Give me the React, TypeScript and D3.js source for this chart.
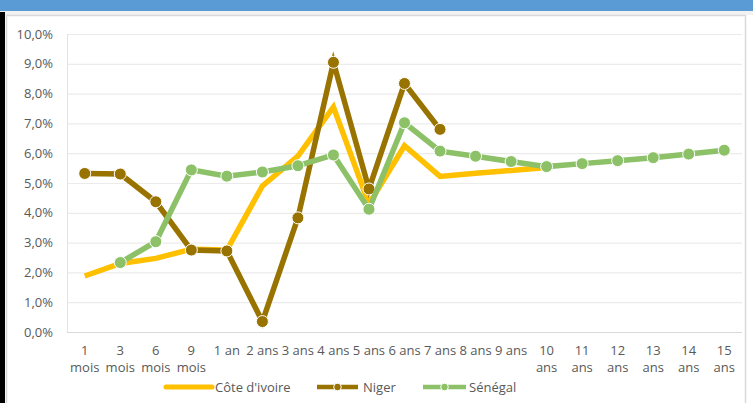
import React from "react";
import * as d3 from "d3";

const categories = [
  "1 mois", "3 mois", "6 mois", "9 mois", "1 an", "2 ans", "3 ans", "4 ans", "5 ans",
  "6 ans", "7 ans", "8 ans", "9 ans", "10 ans", "11 ans", "12 ans", "13 ans", "14 ans", "15 ans",
];

const coteIvoire: (number | null)[] = [
  1.88, 2.3, 2.47, 2.78, 2.75, 4.9, 5.9, 7.55, 4.3, 6.25, 5.22, 5.33, 5.42, 5.52,
  null, null, null, null, null,
];
const niger: (number | null)[] = [
  5.32, 5.3, 4.37, 2.75, 2.72, 0.35, 3.83, 9.05, 4.8, 8.34, 6.8,
  null, null, null, null, null, null, null, null,
];
const senegal: (number | null)[] = [
  null, 2.33, 3.03, 5.44, 5.23, 5.37, 5.58, 5.94, 4.12, 7.02, 6.07, 5.9, 5.72, 5.55,
  5.65, 5.75, 5.85, 5.97, 6.1,
];

const yTicks = [0, 1, 2, 3, 4, 5, 6, 7, 8, 9, 10];

const seriesList = [
  { name: "Côte d'ivoire", values: coteIvoire, color: "#FFC000", marker: false },
  { name: "Niger", values: niger, color: "#997300", marker: true },
  { name: "Sénégal", values: senegal, color: "#8CC168", marker: true },
];

const W = 753;
const H = 403;
const plot = { left: 67, right: 742, top: 34, bottom: 332 };
const FONT = "'Open Sans', sans-serif";

export default function App() {
  const x = d3
    .scaleBand<string>()
    .domain(categories)
    .range([plot.left, plot.right])
    .paddingInner(0)
    .paddingOuter(0);
  const y = d3.scaleLinear().domain([0, 10]).range([plot.bottom, plot.top]);
  const cx = (c: string) => (x(c) ?? 0) + x.bandwidth() / 2;

  const line = d3
    .line<{ c: string; v: number | null }>()
    .defined((d) => d.v !== null)
    .x((d) => cx(d.c))
    .y((d) => y(d.v as number));

  const fmt = (v: number) => v.toFixed(1).replace(".", ",") + "%";

  const legendItems = [
    { s: seriesList[0], x0: 166, x1: 212, tx: 215 },
    { s: seriesList[1], x0: 317, x1: 358, tx: 363 },
    { s: seriesList[2], x0: 423, x1: 466, tx: 469 },
  ];
  const legendY = 387;

  return (
    <svg
      width={W}
      height={H}
      style={{ position: "absolute", left: 0, top: 0, background: "#fff" }}
    >
      <rect x={0} y={0} width={W} height={11} fill="#5B9BD5" />
      <rect x={0} y={11} width={W} height={4} fill="#F2F2F2" />
      <rect x={0} y={12} width={5} height={H - 12} fill="#000" />
      <rect x={6.5} y={15.5} width={739} height={H} fill="#fff" stroke="#D9D9D9" strokeWidth={1.5} />

      {yTicks.map((t) => (
        <g key={t}>
          {t > 0 && (
            <line
              x1={plot.left}
              x2={plot.right}
              y1={y(t) + 0.5}
              y2={y(t) + 0.5}
              stroke="#EBEBEB"
              strokeWidth={1.2}
            />
          )}
          <text
            x={53}
            y={y(t)}
            dy="0.35em"
            textAnchor="end"
            fontFamily={FONT}
            fontSize={13}
            fill="#595959"
          >
            {fmt(t)}
          </text>
        </g>
      ))}
      <line x1={plot.left} x2={plot.right} y1={plot.bottom + 0.5} y2={plot.bottom + 0.5} stroke="#D9D9D9" strokeWidth={1.2} />
      <line x1={plot.left + 0.5} x2={plot.left + 0.5} y1={plot.top} y2={plot.bottom} stroke="#E3E3E3" strokeWidth={1} />

      {categories.map((c) => {
        const lines = c.length > 5 ? c.split(" ") : [c];
        return (
          <text
            key={c}
            x={cx(c)}
            y={355}
            textAnchor="middle"
            fontFamily={FONT}
            fontSize={13}
            fill="#595959"
          >
            {lines.map((l, i) => (
              <tspan key={i} x={cx(c)} dy={i === 0 ? 0 : 17}>
                {l}
              </tspan>
            ))}
          </text>
        );
      })}

      {seriesList.map((s) => {
        const data = categories.map((c, i) => ({ c, v: s.values[i] }));
        return (
          <g key={s.name}>
            <path
              d={line(data) ?? ""}
              fill="none"
              stroke={s.color}
              strokeWidth={5.5}
              strokeLinejoin="miter"
              strokeMiterlimit={6}
            />
            {s.marker &&
              data
                .filter((d) => d.v !== null)
                .map((d) => (
                  <circle
                    key={d.c}
                    cx={cx(d.c)}
                    cy={y(d.v as number)}
                    r={6}
                    fill={s.color}
                    stroke="#fff"
                    strokeWidth={1}
                  />
                ))}
          </g>
        );
      })}

      {legendItems.map(({ s, x0, x1, tx }) => (
        <g key={s.name}>
          <line x1={x0} x2={x1} y1={legendY} y2={legendY} stroke={s.color} strokeWidth={s.marker ? 4.5 : 5} strokeLinecap={s.marker ? "butt" : "round"} />
          {s.marker && (
            <circle cx={(x0 + x1) / 2} cy={legendY} r={3.8} fill={s.color} stroke="#fff" strokeWidth={1} />
          )}
          <text x={tx} y={legendY} dy="0.35em" fontFamily={FONT} fontSize={13} fill="#595959">
            {s.name}
          </text>
        </g>
      ))}
    </svg>
  );
}
